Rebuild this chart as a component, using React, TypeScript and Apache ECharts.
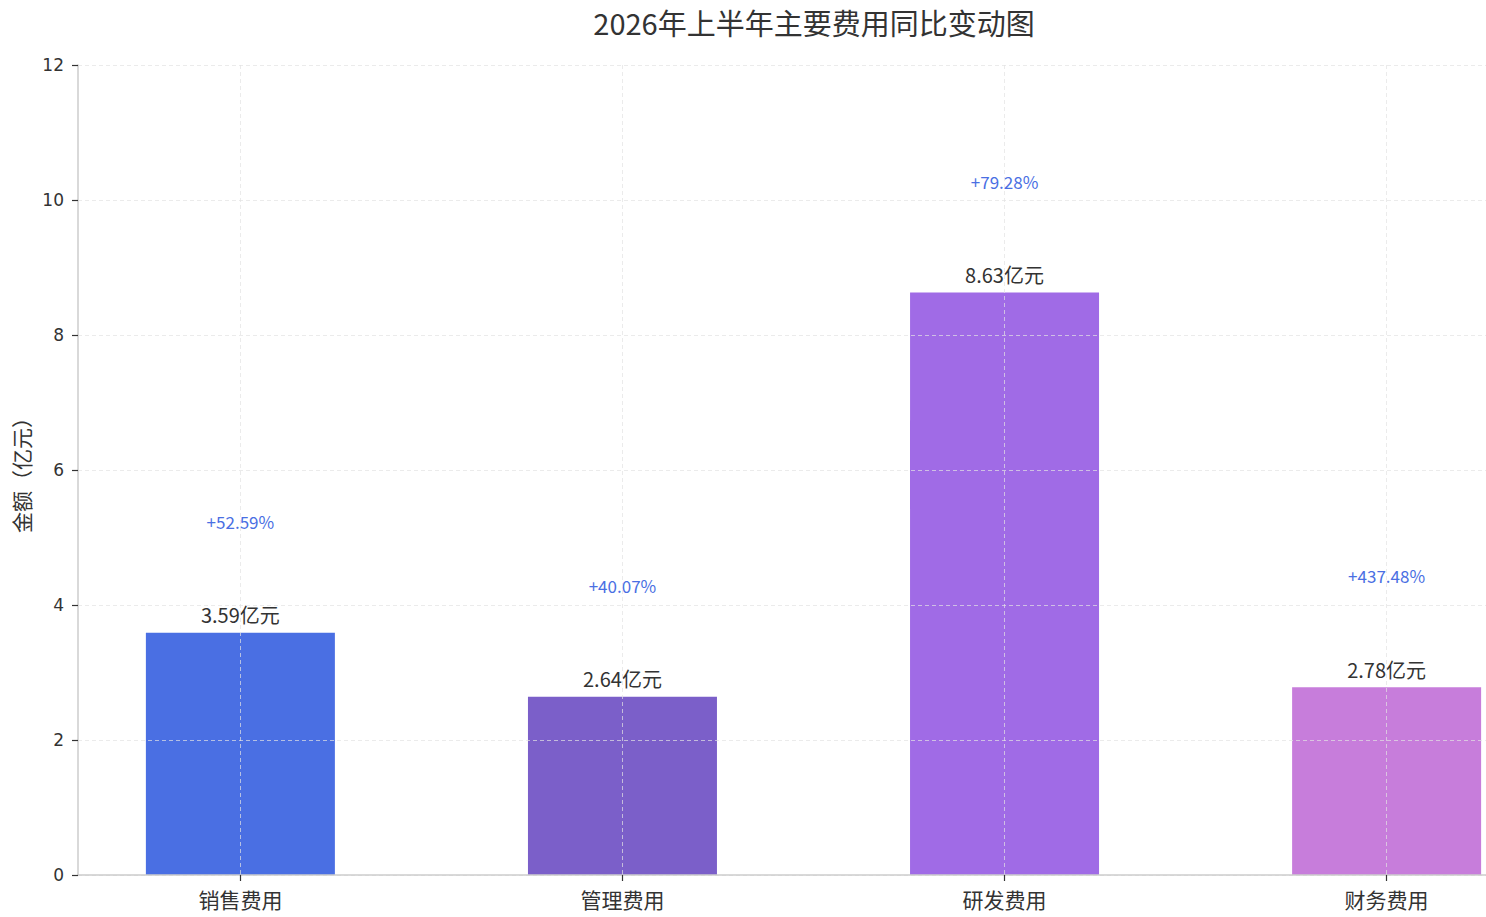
import React, { useEffect, useRef } from "react";
import * as echarts from "echarts";

const categories = ["销售费用", "管理费用", "研发费用", "财务费用"];
const amounts = [3.59, 2.64, 8.63, 2.78];
const yoyPct = [52.59, 40.07, 79.28, 437.48];
const barColors = ["#4A6FE3", "#7B5FC9", "#A06BE6", "#C77DDB"];
const yTicks = [0, 2, 4, 6, 8, 10, 12];

const CJK = '"Noto Sans CJK SC", "Noto Sans", sans-serif';
const NUM = '"DejaVu Sans", "Noto Sans", sans-serif';
const PCT_OFFSET = 1.65;

export default function App() {
  const ref = useRef<HTMLDivElement>(null);
  useEffect(() => {
    document.body.style.margin = "0";
    if (!ref.current) return;
    const chart = echarts.init(ref.current, null, { renderer: "svg" });
    const idx = categories.map((_, i) => i);
    const gridLine = { color: "#e2e2e2", opacity: 0.7, type: [4, 3], width: 1 };
    chart.setOption({
      animation: false,
      backgroundColor: "#ffffff",
      graphic: [
        {
          type: "text",
          x: 814,
          y: 22,
          style: {
            text: "2026年上半年主要费用同比变动图",
            font: `29px ${CJK}`,
            fill: "#333333",
            textAlign: "center",
            textVerticalAlign: "middle",
          },
        },
      ],
      grid: {
        left: 78,
        top: 65,
        height: 810,
        width: 1471,
        containLabel: false,
        outerBoundsMode: "none",
      },
      xAxis: {
        type: "value",
        min: -0.425,
        max: 3.425,
        z: 3,
        axisLine: { show: true, onZero: false, lineStyle: { color: "#cccccc", width: 1.5 } },
        axisTick: {
          show: true,
          customValues: idx,
          length: 6,
          lineStyle: { color: "#333333", width: 1.2 },
        },
        axisLabel: {
          customValues: idx,
          formatter: (v: number) => categories[Math.round(v)] ?? "",
          fontFamily: CJK,
          fontSize: 21,
          color: "#333333",
          margin: 13,
        },
        splitLine: { show: true, lineStyle: gridLine },
      },
      yAxis: {
        type: "value",
        min: 0,
        max: 12,
        interval: 2,
        z: 3,
        name: "金额（亿元）",
        nameLocation: "middle",
        nameRotate: 90,
        nameGap: 45,
        nameTextStyle: { fontFamily: CJK, fontSize: 21, color: "#333333" },
        axisLine: { show: true, onZero: false, lineStyle: { color: "#cccccc", width: 1.5 } },
        axisTick: {
          show: true,
          length: 6,
          lineStyle: { color: "#333333", width: 1.2 },
        },
        axisLabel: {
          fontFamily: NUM,
          fontSize: 17,
          color: "#333333",
          margin: 14,
          formatter: (v: number) => (yTicks.includes(v) ? String(v) : ""),
        },
        splitLine: { show: true, lineStyle: gridLine },
      },
      series: [
        {
          type: "bar",
          barWidth: 189,
          z: 2,
          data: amounts.map((v, i) => ({
            value: [i, v],
            itemStyle: { color: barColors[i] },
          })),
          label: {
            show: true,
            position: "top",
            distance: 8,
            fontFamily: CJK,
            fontSize: 20,
            color: "#333333",
            formatter: (p: any) => `${amounts[p.dataIndex].toFixed(2)}亿元`,
          },
        },
        {
          type: "scatter",
          symbolSize: 0,
          silent: true,
          itemStyle: { opacity: 1 },
          data: amounts.map((v, i) => [i, v + PCT_OFFSET]),
          label: {
            show: true,
            position: "inside",
            fontFamily: CJK,
            fontSize: 17,
            opacity: 1,
            color: "#4A6FE3",
            formatter: (p: any) => `+${yoyPct[p.dataIndex].toFixed(2)}%`,
          },
        },
      ],
    });
    return () => chart.dispose();
  }, []);
  return (
    <div
      ref={ref}
      style={{ position: "fixed", left: 0, top: 0, width: 1486, height: 917 }}
    />
  );
}
